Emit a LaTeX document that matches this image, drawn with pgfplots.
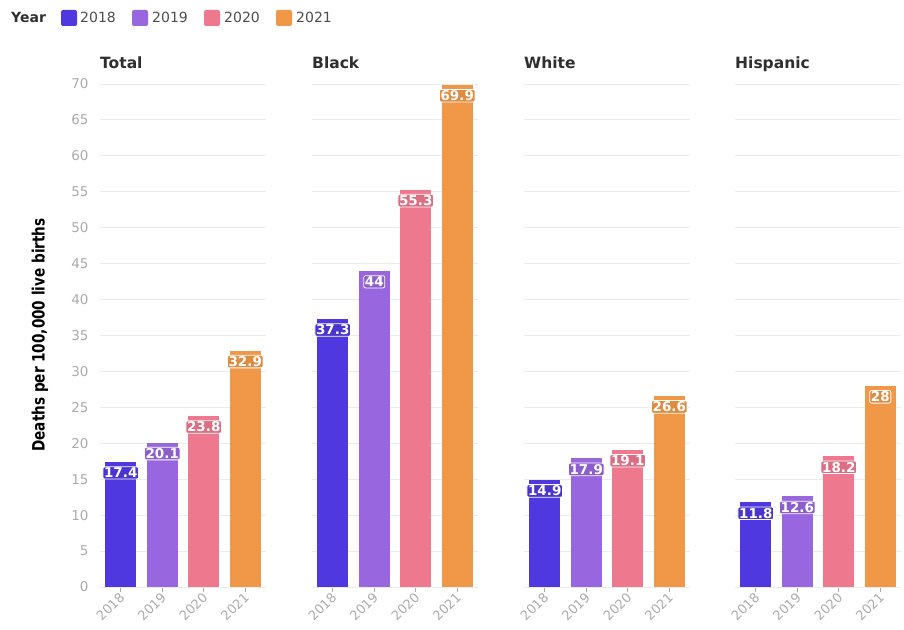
\documentclass[border=0pt]{standalone}
\usepackage{pgfplots}
\pgfplotsset{compat=1.18}
\usepackage{fontspec}
\setmainfont{DejaVu Sans}
\definecolor{c2018}{HTML}{5038E0}
\definecolor{c2019}{HTML}{9866DE}
\definecolor{c2020}{HTML}{EE788D}
\definecolor{c2021}{HTML}{F09848}
\definecolor{tickgray}{HTML}{ABABAB}
\definecolor{gridgray}{HTML}{EBEBEB}
\definecolor{titlegray}{HTML}{2F2F2F}
\pgfplotsset{
  /pgf/number format/assume math mode=true,
  panel/.style={
    scale only axis, width=166pt, height=503pt, anchor=south west,
    ymin=0, ymax=70, xmin=-0.5, xmax=3.5,
    ybar, bar width=31pt, bar shift=0pt,
    ytick={0,5,...,70}, xtick={0,1,2,3}, xticklabels={2018,2019,2020,2021},
    ymajorgrids, grid style={gridgray, line width=0.9pt},
    axis x line*=bottom, axis y line*=left,
    x axis line style={gridgray, line width=0.9pt, -},
    y axis line style={draw=none},
    tick align=outside,
    xtick style={tickgray, line width=0.6pt}, major tick length=5pt,
    ytick style={draw=none},
    yticklabels={},
    xticklabel style={rotate=45, anchor=east, text=tickgray, font=\fontsize{13}{15}\selectfont, inner sep=1pt, yshift=-3pt},
    nodes near coords,
    every node near coord/.append style={anchor=center, yshift=-11pt, draw=white, text=white,
      font=\bfseries\fontsize{13.5}{15}\selectfont, rounded corners=2pt, inner sep=1.2pt, line width=0.8pt},
  },
  firstpanel/.style={
    panel,
    y axis line style={gridgray, line width=0.9pt},
    yticklabels={0,5,10,15,20,25,30,35,40,45,50,55,60,65,70},
    ytick style={gridgray, line width=0.9pt, /pgfplots/major tick length=10pt},
    yticklabel style={text=tickgray, font=\fontsize{13.5}{15}\selectfont, xshift=-3pt},
  },
  b18/.style={fill=c2018, draw=none, every node near coord/.append style={fill=c2018!92!black}},
  b19/.style={fill=c2019, draw=none, every node near coord/.append style={fill=c2019!92!black}},
  b20/.style={fill=c2020, draw=none, every node near coord/.append style={fill=c2020!92!black}},
  b21/.style={fill=c2021, draw=none, every node near coord/.append style={fill=c2021!92!black}},
}
\begin{document}
\begin{tikzpicture}
\useasboundingbox (0,0) rectangle (904pt,629pt);
% Legend
\node[anchor=base west, font=\bfseries\fontsize{14}{16}\selectfont, text=titlegray, inner sep=0pt] at (11pt,606pt) {Year};
\fill[c2018, rounded corners=2pt] (61pt,603pt) rectangle (77pt,619pt);
\node[anchor=base west, font=\fontsize{14}{16}\selectfont, text=titlegray!85, inner sep=0pt] at (80pt,606pt) {2018};
\fill[c2019, rounded corners=2pt] (132pt,603pt) rectangle (148pt,619pt);
\node[anchor=base west, font=\fontsize{14}{16}\selectfont, text=titlegray!85, inner sep=0pt] at (152pt,606pt) {2019};
\fill[c2020, rounded corners=2pt] (204pt,603pt) rectangle (220pt,619pt);
\node[anchor=base west, font=\fontsize{14}{16}\selectfont, text=titlegray!85, inner sep=0pt] at (224pt,606pt) {2020};
\fill[c2021, rounded corners=2pt] (276pt,603pt) rectangle (292pt,619pt);
\node[anchor=base west, font=\fontsize{14}{16}\selectfont, text=titlegray!85, inner sep=0pt] at (296pt,606pt) {2021};
% Y label
\node[rotate=90, font=\bfseries\fontsize{17}{19}\selectfont, inner sep=0pt] at (40pt,294pt) {\scalebox{0.8}[1]{Deaths per 100,000 live births}};
% Panel titles
\foreach \xx/\tt in {100/Total,312/Black,524/White,735/Hispanic}
  \node[anchor=base west, font=\bfseries\fontsize{15.5}{17}\selectfont, text=titlegray, inner sep=0pt] at (\xx pt,560pt) {\tt};

\begin{axis}[firstpanel, at={(100pt,42pt)}]
\addplot[b18] coordinates {(0,17.4)};
\addplot[b19] coordinates {(1,20.1)};
\addplot[b20] coordinates {(2,23.8)};
\addplot[b21] coordinates {(3,32.9)};
\end{axis}
\begin{axis}[panel, at={(312pt,42pt)}]
\addplot[b18] coordinates {(0,37.3)};
\addplot[b19] coordinates {(1,44)};
\addplot[b20] coordinates {(2,55.3)};
\addplot[b21] coordinates {(3,69.9)};
\end{axis}
\begin{axis}[panel, at={(524pt,42pt)}]
\addplot[b18] coordinates {(0,14.9)};
\addplot[b19] coordinates {(1,17.9)};
\addplot[b20] coordinates {(2,19.1)};
\addplot[b21] coordinates {(3,26.6)};
\end{axis}
\begin{axis}[panel, at={(735pt,42pt)}]
\addplot[b18] coordinates {(0,11.8)};
\addplot[b19] coordinates {(1,12.6)};
\addplot[b20] coordinates {(2,18.2)};
\addplot[b21] coordinates {(3,28)};
\end{axis}
\end{tikzpicture}
\end{document}
